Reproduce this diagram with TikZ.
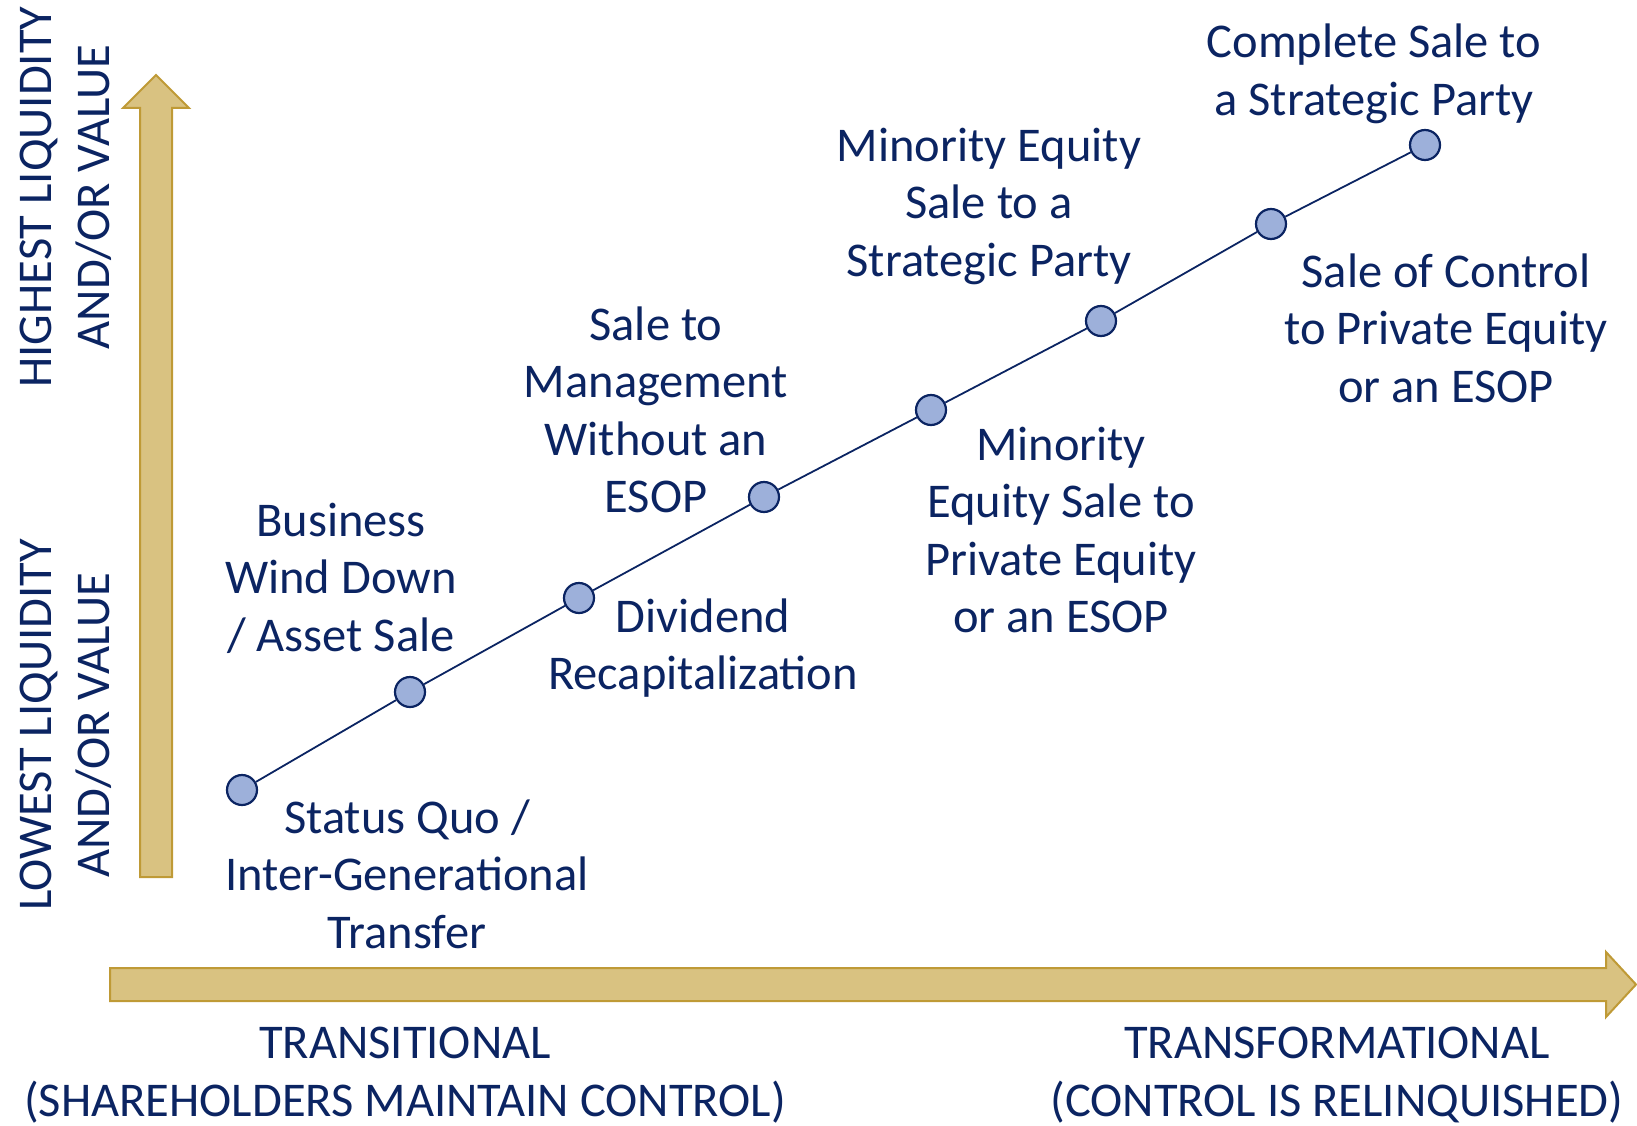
\documentclass[tikz,border=0pt]{standalone}
\usepackage{fontspec}
\setmainfont{Carlito}
\definecolor{navy}{HTML}{0B2462}
\definecolor{goldfill}{HTML}{D9C281}
\definecolor{goldline}{HTML}{BF9A36}
\definecolor{dotfill}{HTML}{9DB0DA}
\begin{document}
\begin{tikzpicture}[x=1pt,y=-1pt,
  lbl/.style={text=navy,align=center,inner sep=0pt,font=\fontsize{48.5}{57.5}\selectfont},
  stage/.style={circle,draw=navy,fill=dotfill,line width=2.2pt,minimum size=30pt,inner sep=0pt},
  link/.style={draw=navy,line width=1.8pt},
  bigarrow/.style={fill=goldfill,draw=goldline,line width=2pt,line join=miter}]
\useasboundingbox (0,0) rectangle (1637,1126);

% axis arrows
\draw[bigarrow] (140,877) -- (140,108) -- (123,108) -- (156,75) -- (189,108) -- (172,108) -- (172,877) -- cycle;
\draw[bigarrow] (110,968) -- (1606,968) -- (1606,952) -- (1636,984.5) -- (1606,1017) -- (1606,1001) -- (110,1001) -- cycle;

% stages along the diagonal
\node[stage] (d1) at (242,790) {};
\node[stage] (d2) at (410,692) {};
\node[stage] (d3) at (579,598) {};
\node[stage] (d4) at (764,497) {};
\node[stage] (d5) at (931,410) {};
\node[stage] (d6) at (1101,321) {};
\node[stage] (d7) at (1271,224) {};
\node[stage] (d8) at (1425,145) {};
\draw[link] (d1) -- (d2);
\draw[link] (d2) -- (d3);
\draw[link] (d3) -- (d4);
\draw[link] (d4) -- (d5);
\draw[link] (d5) -- (d6);
\draw[link] (d6) -- (d7);
\draw[link] (d7) -- (d8);

% stage labels
\node[lbl] (t1) at (407,874) {Status Quo /\\Inter-Generational\\Transfer};
\node[lbl] (t2) at (341,578) {Business\\Wind Down\\/ Asset Sale};
\node[lbl] (t3) at (703,648) {Dividend\\Recapitalization};
\node[lbl] (t4) at (656,410) {Sale to\\Management\\Without an\\ESOP};
\node[lbl] (t5) at (1061,530) {Minority\\Equity Sale to\\Private Equity\\or an ESOP};
\node[lbl] (t6) at (989,206) {Minority Equity\\Sale to a\\Strategic Party};
\node[lbl] (t7) at (1446,328) {Sale of Control\\to Private Equity\\or an ESOP};
\node[lbl] (t8) at (1374,74) {Complete Sale to\\a Strategic Party};

% axis labels
\node[lbl] (xl) at (405,1075) {TRANSITIONAL\\(SHAREHOLDERS MAINTAIN CONTROL)};
\node[lbl] (xr) at (1337,1075) {TRANSFORMATIONAL\\(CONTROL IS RELINQUISHED)};
\node[lbl,rotate=90] (yh) at (66,197) {HIGHEST LIQUIDITY\\AND/OR VALUE};
\node[lbl,rotate=90] (yl) at (66,725) {LOWEST LIQUIDITY\\AND/OR VALUE};
\end{tikzpicture}
\end{document}
